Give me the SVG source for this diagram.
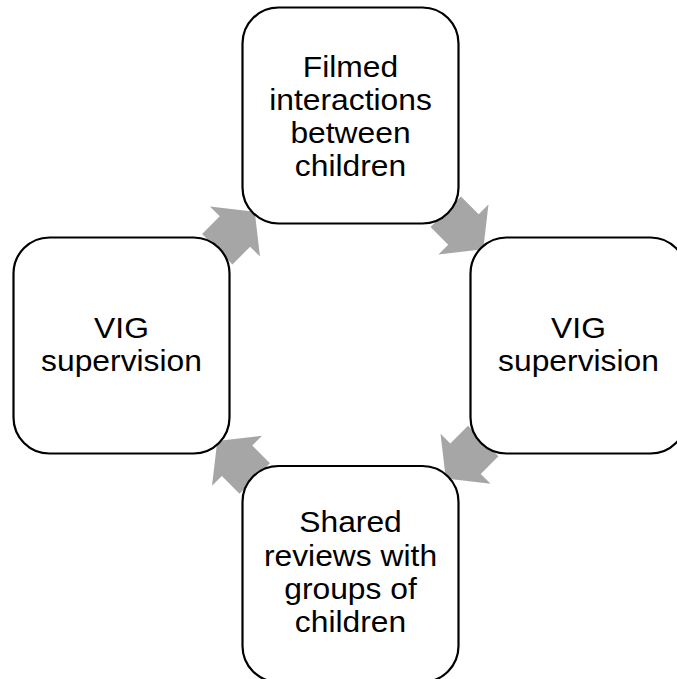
<svg xmlns="http://www.w3.org/2000/svg" width="677" height="679" viewBox="0 0 677 679">
<style>
.box{fill:#fff;stroke:#000;stroke-width:2.2}
.arr{fill:#a6a6a6;stroke:none}
.lbl{font-family:"Liberation Sans",Arial,sans-serif;font-size:30px;fill:#000;text-anchor:middle}
</style>
<defs>
<polygon id="arrow" points="-26.5,-21.5 -1.5,-21.5 -1.5,-35.4 26.5,0 -1.5,35.4 -1.5,21.5 -26.5,21.5"/>
</defs>
<rect width="677" height="679" fill="#fff"/>
<g id="connectors">
<use href="#arrow" class="arr" transform="translate(236,230.5) rotate(-45)"/>
<use href="#arrow" class="arr" transform="translate(464.5,230.5) rotate(45)"/>
<use href="#arrow" class="arr" transform="translate(464.5,459.75) rotate(135)"/>
<use href="#arrow" class="arr" transform="translate(236,459.75) rotate(-135)"/>
</g>
<g id="node-top">
<rect class="box" x="242.5" y="7.5" width="216" height="216" rx="36"/>
<text class="lbl" transform="translate(350.5,77) scale(1.06,1)">Filmed</text>
<text class="lbl" transform="translate(350.5,110) scale(1.06,1)">interactions</text>
<text class="lbl" transform="translate(350.5,143) scale(1.06,1)">between</text>
<text class="lbl" transform="translate(350.5,176) scale(1.06,1)">children</text>
</g>
<g id="node-right">
<rect class="box" x="470.5" y="237.5" width="216" height="216" rx="36"/>
<text class="lbl" transform="translate(578.5,338.3) scale(1.06,1)">VIG</text>
<text class="lbl" transform="translate(578.5,370.8) scale(1.06,1)">supervision</text>
</g>
<g id="node-bottom">
<rect class="box" x="242.5" y="466" width="216" height="216" rx="36"/>
<text class="lbl" transform="translate(350.5,532.3) scale(1.06,1)">Shared</text>
<text class="lbl" transform="translate(350.5,565.5) scale(1.06,1)">reviews with</text>
<text class="lbl" transform="translate(350.5,598.6) scale(1.06,1)">groups of</text>
<text class="lbl" transform="translate(350.5,631.8) scale(1.06,1)">children</text>
</g>
<g id="node-left">
<rect class="box" x="13.5" y="237.5" width="216" height="216" rx="36"/>
<text class="lbl" transform="translate(121.5,338.3) scale(1.06,1)">VIG</text>
<text class="lbl" transform="translate(121.5,370.8) scale(1.06,1)">supervision</text>
</g>
</svg>
